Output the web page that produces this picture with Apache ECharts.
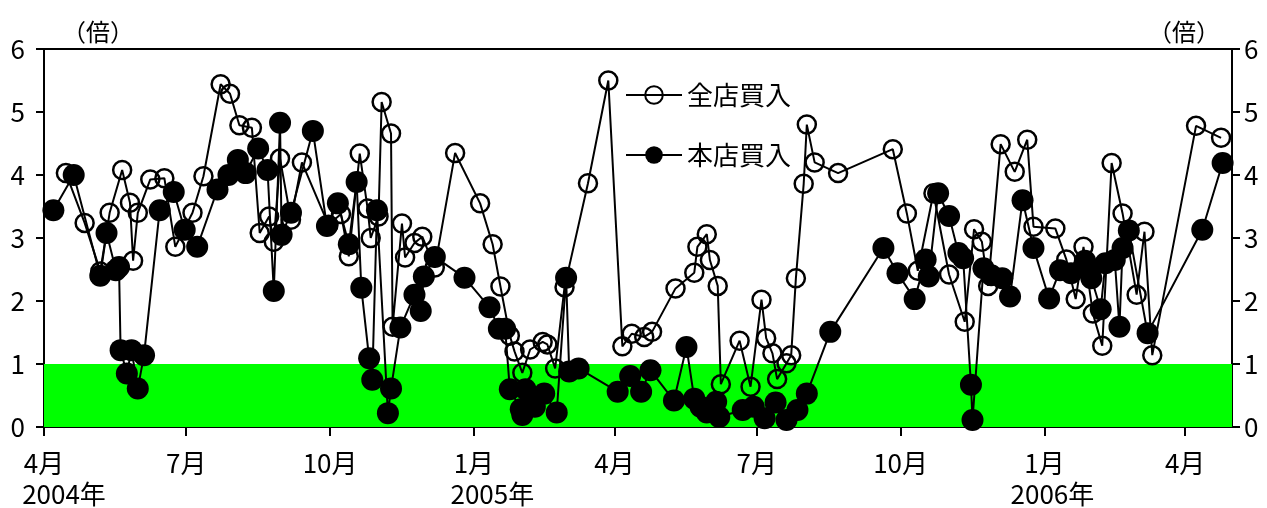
<!DOCTYPE html>
<html>
<head>
<meta charset="utf-8">
<script src="https://cdn.jsdelivr.net/npm/echarts@6/dist/echarts.min.js"></script>
<style>
html,body{margin:0;padding:0;background:#fff;}
#chart{width:1267px;height:508px;}
</style>
</head>
<body>
<div id="chart"></div>
<script>
// ---- data ----
const tickDates = ['2004-04-01','2004-07-01','2004-10-01','2005-01-01','2005-04-01','2005-07-01','2005-10-01','2006-01-01','2006-04-01'];
const tickMonths = ['4月','7月','10月','1月','4月','7月','10月','1月','4月'];
const tickYears = ['2004年','','','2005年','','','','2006年',''];
const yTicks = [0,1,2,3,4,5,6];

const zenDates = ['2004-04-15','2004-04-27','2004-05-07','2004-05-13','2004-05-21','2004-05-26','2004-05-28','2004-05-31','2004-06-08','2004-06-17',
'2004-06-24','2004-07-05','2004-07-12','2004-07-23','2004-07-29','2004-08-04','2004-08-12','2004-08-17','2004-08-23','2004-08-26',
'2004-08-30','2004-09-06','2004-09-13','2004-09-30','2004-10-08','2004-10-13','2004-10-20','2004-10-25','2004-10-27','2004-11-01',
'2004-11-03','2004-11-09','2004-11-10','2004-11-16','2004-11-18','2004-11-24','2004-11-29','2004-12-07','2004-12-20','2005-01-05',
'2005-01-13','2005-01-18','2005-01-24','2005-01-27','2005-02-01','2005-02-06','2005-02-14','2005-02-17','2005-02-22','2005-02-28',
'2005-03-15','2005-03-28','2005-04-06','2005-04-12','2005-04-20','2005-04-25','2005-05-10','2005-05-22','2005-05-24','2005-05-30',
'2005-06-01','2005-06-06','2005-06-08','2005-06-20','2005-06-27','2005-07-04','2005-07-07','2005-07-11','2005-07-14','2005-07-20',
'2005-07-23','2005-07-26','2005-07-31','2005-08-02','2005-08-07','2005-08-22','2005-09-26','2005-10-05','2005-10-12','2005-10-22',
'2005-11-01','2005-11-11','2005-11-17','2005-11-22','2005-11-26','2005-12-04','2005-12-13','2005-12-21','2005-12-25','2006-01-08',
'2006-01-15','2006-01-21','2006-01-26','2006-02-01','2006-02-07','2006-02-13','2006-02-20','2006-03-01','2006-03-06','2006-03-11',
'2006-04-08','2006-04-24'];
const zenValues = [4.03,3.24,2.47,3.40,4.08,3.56,2.64,3.40,3.93,3.95,
2.86,3.40,3.98,5.44,5.29,4.79,4.75,3.08,3.34,2.94,
4.26,3.29,4.20,3.21,3.38,2.71,4.34,3.47,3.00,3.34,
5.16,4.66,1.59,3.23,2.69,2.92,3.02,2.53,4.35,3.55,
2.90,2.23,1.45,1.20,0.86,1.23,1.35,1.31,0.93,2.22,
3.87,5.50,1.28,1.48,1.43,1.51,2.20,2.45,2.86,3.06,
2.65,2.24,0.68,1.37,0.64,2.02,1.41,1.17,0.76,1.01,
1.14,2.36,3.86,4.80,4.20,4.03,4.41,3.39,2.48,3.71,
2.42,1.67,3.14,2.94,2.24,4.49,4.05,4.56,3.18,3.15,
2.66,2.03,2.86,1.80,1.29,4.19,3.39,2.10,3.10,1.14,
4.78,4.59];

const honDates = ['2004-04-07','2004-04-20','2004-05-07','2004-05-11','2004-05-17','2004-05-19','2004-05-20','2004-05-24','2004-05-27','2004-05-31',
'2004-06-04','2004-06-14','2004-06-23','2004-06-30','2004-07-08','2004-07-21','2004-07-28','2004-08-03','2004-08-08','2004-08-16',
'2004-08-22','2004-08-26','2004-08-30','2004-08-31','2004-09-06','2004-09-20','2004-09-29','2004-10-06','2004-10-13','2004-10-18',
'2004-10-21','2004-10-26','2004-10-28','2004-10-31','2004-11-07','2004-11-09','2004-11-15','2004-11-24','2004-11-28','2004-11-30',
'2004-12-07','2004-12-26','2005-01-11','2005-01-17','2005-01-21','2005-01-24','2005-01-31','2005-02-01','2005-02-03','2005-02-09',
'2005-02-15','2005-02-23','2005-03-01','2005-03-03','2005-03-09','2005-04-03','2005-04-11','2005-04-18','2005-04-24','2005-05-09',
'2005-05-17','2005-05-22','2005-05-26','2005-05-30','2005-06-05','2005-06-07','2005-06-22','2005-06-29','2005-07-06','2005-07-13',
'2005-07-20','2005-07-27','2005-08-02','2005-08-17','2005-09-20','2005-09-29','2005-10-10','2005-10-17','2005-10-19','2005-10-25',
'2005-11-01','2005-11-07','2005-11-10','2005-11-15','2005-11-16','2005-11-23','2005-11-28','2005-12-05','2005-12-10','2005-12-18',
'2005-12-25','2006-01-04','2006-01-11','2006-01-18','2006-01-27','2006-01-29','2006-01-31','2006-02-06','2006-02-09','2006-02-15',
'2006-02-18','2006-02-20','2006-02-24','2006-03-08','2006-04-12','2006-04-25'];
const honValues = [3.44,4.00,2.40,3.08,2.49,2.54,1.22,0.85,1.22,0.61,
1.14,3.44,3.73,3.13,2.86,3.77,4.00,4.24,4.03,4.42,
4.08,2.16,4.83,3.05,3.40,4.70,3.19,3.55,2.90,3.89,
2.21,1.09,0.75,3.44,0.22,0.61,1.58,2.10,1.84,2.39,
2.70,2.37,1.90,1.56,1.56,0.60,0.28,0.19,0.60,0.32,
0.53,0.23,2.37,0.88,0.93,0.56,0.81,0.56,0.90,0.42,
1.27,0.45,0.32,0.23,0.40,0.16,0.27,0.32,0.14,0.39,
0.11,0.27,0.53,1.51,2.84,2.44,2.03,2.66,2.39,3.71,
3.35,2.76,2.68,0.67,0.11,2.52,2.41,2.36,2.07,3.60,
2.84,2.04,2.49,2.44,2.64,2.49,2.36,1.87,2.60,2.65,
1.59,2.84,3.12,1.49,3.13,4.19];

const axisStart = '2004-04-01';
const axisEnd = '2006-05-01';
const bandRange = [0, 1];

// ---- build ----
function toTime(s){ const p = s.split('-'); return Date.UTC(+p[0], +p[1]-1, +p[2]); }
const tickTimes = tickDates.map(toTime);
const zenData = zenDates.map((d,i)=>[toTime(d), zenValues[i]]);
const honData = honDates.map((d,i)=>[toTime(d), honValues[i]]);

const FONT = "'Noto Sans CJK JP', 'Noto Sans', sans-serif";
const FS = 26;
const yearPad = {0:[0,0,0,40], 3:[0,0,0,37], 7:[0,0,0,16]};
const rich = { m: {fontSize:FS, lineHeight:31, color:'#000', fontFamily:FONT} };
Object.keys(yearPad).forEach(k=>{ rich['y'+k] = {fontSize:FS, lineHeight:31, color:'#000', fontFamily:FONT, padding:yearPad[k]}; });

const chart = echarts.init(document.getElementById('chart'), null, {renderer:'canvas'});
const yAxisBase = {
  type:'value', min:yTicks[0], max:yTicks[yTicks.length-1], interval:1,
  axisLine:{show:true, lineStyle:{color:'#000', width:2}},
  axisTick:{show:true, inside:false, length:8, lineStyle:{color:'#000', width:2}},
  splitLine:{show:false},
  name:'（倍）', nameLocation:'end', nameGap:5
};
chart.setOption({
  animation:false,
  backgroundColor:'#fff',
  grid:{left:44, right:35, top:49, bottom:81, containLabel:false, outerBoundsMode:'none',
        show:true, borderColor:'#000', borderWidth:2, backgroundColor:'transparent'},
  legend:{
    orient:'vertical', left:620, top:77, itemWidth:56, itemHeight:22, itemGap:34,
    textStyle:{fontSize:26, color:'#000', fontFamily:FONT},
    data:['全店買入','本店買入']
  },
  xAxis:{
    type:'value', min:toTime(axisStart), max:toTime(axisEnd),
    axisLine:{show:true, onZero:false, lineStyle:{color:'#000', width:2}},
    axisTick:{show:true, inside:false, length:9, customValues:tickTimes, lineStyle:{color:'#000', width:2}},
    splitLine:{show:false},
    axisLabel:{
      customValues:tickTimes, margin:21,
      formatter:function(v){
        let idx = -1;
        for (let i=0;i<tickTimes.length;i++){ if (Math.abs(tickTimes[i]-v) < 86400000) { idx = i; break; } }
        if (idx < 0) return '';
        let s = '{m|' + tickMonths[idx] + '}';
        if (tickYears[idx]) s += '\n{y' + idx + '|' + tickYears[idx] + '}';
        return s;
      },
      rich: rich
    }
  },
  yAxis:[
    Object.assign({}, yAxisBase, {position:'left',
      axisLabel:{fontSize:FS, color:'#000', fontFamily:FONT, margin:19},
      nameTextStyle:{fontSize:24, color:'#000', fontFamily:FONT, align:'left', padding:[0,0,0,18]}}),
    Object.assign({}, yAxisBase, {position:'right',
      axisLabel:{fontSize:FS, color:'#000', fontFamily:FONT, margin:12},
      nameTextStyle:{fontSize:24, color:'#000', fontFamily:FONT, align:'right', padding:[0,12,0,0]}})
  ],
  series:[
    {
      name:'全店買入', type:'line', data:zenData, yAxisIndex:0,
      symbol:'circle', symbolSize:18, showAllSymbol:true,
      itemStyle:{color:'rgba(0,0,0,0)', borderColor:'#000', borderWidth:2.5},
      lineStyle:{color:'#000', width:2},
      markArea:{silent:true, itemStyle:{color:'#00ff00'}, data:[[{yAxis:bandRange[0]},{yAxis:bandRange[1]}]]}
    },
    {
      name:'本店買入', type:'line', data:honData, yAxisIndex:0,
      symbol:'circle', symbolSize:22, showAllSymbol:true,
      itemStyle:{color:'#000'},
      lineStyle:{color:'#000', width:2}
    }
  ]
});
</script>
</body>
</html>
